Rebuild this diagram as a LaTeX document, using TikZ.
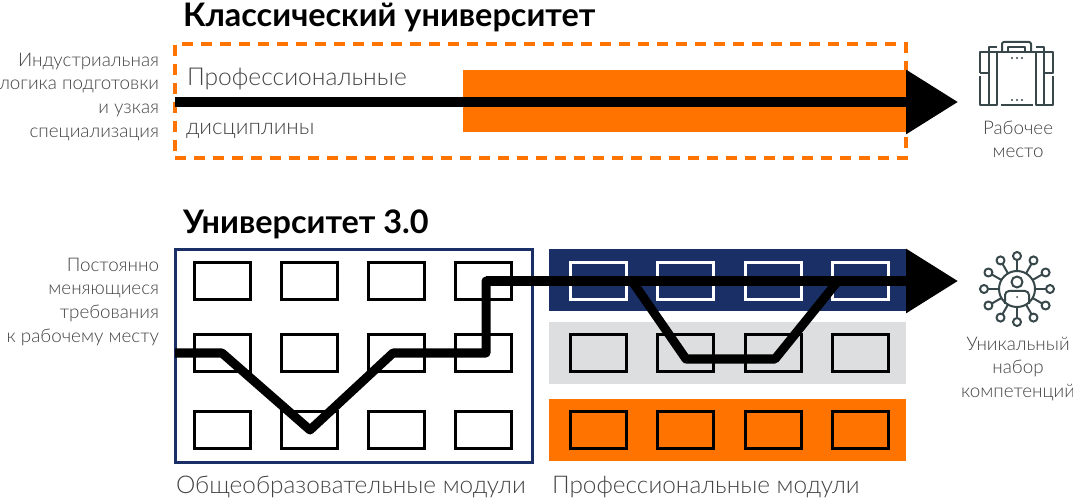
\documentclass[tikz,border=0pt]{standalone}
\usepackage{fontspec}
\setmainfont{Lato}
\newfontfamily\lightfont{Lato Light}
\usepackage{tikz}
\usetikzlibrary{positioning,arrows.meta}
\definecolor{uorange}{HTML}{FF7300}
\definecolor{unavy}{HTML}{1A2F66}
\definecolor{ugray}{HTML}{DCDEDF}
\definecolor{utext}{HTML}{444444}
\definecolor{uicon}{HTML}{37474A}
\tikzset{
  title/.style={anchor=west, inner sep=0pt, outer sep=0pt, font=\fontsize{32.4}{36}\selectfont\bfseries},
  sidelabel/.style={anchor=north east, inner sep=0pt, outer sep=0pt, align=right, text=utext, font=\lightfont\fontsize{18.8}{23.6}\selectfont},
  iconlabel/.style={anchor=north, inner sep=0pt, outer sep=0pt, align=center, text=utext, font=\lightfont\fontsize{18.8}{23.6}\selectfont},
  caption/.style={anchor=west, inner sep=0pt, outer sep=0pt, text=utext, font=\lightfont\fontsize{24.4}{28}\selectfont},
  bar/.style={anchor=north west, inner sep=0pt, outer sep=0pt, minimum width=357pt, minimum height=62pt},
  modulebox/.style={draw=black, line width=3pt, inner sep=0pt, minimum width=56pt, minimum height=37pt},
  track/.style={draw=black, line width=9pt, line join=round},
  mainarrow/.style={draw=black, line width=10pt, -{Triangle[length=52pt,width=62pt]}},
  icon/.style={draw=uicon, line width=2pt, line join=round},
}
\begin{document}
\begin{tikzpicture}[x=1pt,y=-1pt]
  \useasboundingbox (0,0) rectangle (1073,502);

  % top block
  \node[title] (classic) at (183,18) {Классический университет};
  \node[sidelabel] (industry) at (159,53) {Индустриальная\\логика подготовки\\и узкая\\специализация};
  \node[anchor=north west, inner sep=0pt, outer sep=0pt, minimum width=731pt, minimum height=114pt, draw=uorange, line width=3.4pt, dash pattern=on 11pt off 8pt] (frame) at (175,44) {};
  \node[anchor=north west, inner sep=0pt, outer sep=0pt, fill=uorange, minimum width=443pt, minimum height=62pt] (profbar) at (463,70) {};
  \node[caption, font=\lightfont\fontsize{24.6}{28}\selectfont] (proftext) at (187,79) {Профессиональные};
  \node[caption, font=\lightfont\fontsize{22.4}{26}\selectfont] (disctext) at (186,131) {дисциплины};
  \coordinate (classicstart) at (175,102);
  \coordinate (classicend) at (958,102);
  \draw[mainarrow] (classicstart) -- (classicend);

  % case icon
  \draw[icon] (980,73) -- (980,52) -- (1053,52) -- (1053,73) -- (1044,73);
  \draw[icon] (980,76) -- (980,105) -- (997,105) -- (997,52);
  \draw[icon] (980,73) -- (989,73);
  \draw[icon] (989,105) -- (989,47) -- (997,47);
  \draw[icon] (1053,76) -- (1053,105) -- (1036,105) -- (1036,52);
  \draw[icon] (1044,105) -- (1044,47) -- (1036,47);
  \draw[icon] (1002,52) -- (1002,46) [rounded corners=2pt] -- (1002,42) -- (1031,42) -- (1031,52);
  \draw[icon] (1008,52) -- (1008,47) -- (1025,47) -- (1025,52);
  \draw[icon] (1001,105) -- (1033,105);
  \foreach \dotx in {1012,1017,1022} {
    \fill[uicon] (\dotx,58) circle (1.2pt);
    \fill[uicon] (\dotx,100) circle (1.2pt);
  }
  \node[iconlabel] (workplace) at (1018,121) {Рабочее\\место};

  % bottom block
  \node[title] (uni) at (183,224) {Университет 3.0};
  \node[sidelabel] (changing) at (159,258) {Постоянно\\меняющиеся\\требования\\к рабочему месту};
  \node[anchor=north west, inner sep=0pt, outer sep=0pt, minimum width=357pt, minimum height=212pt, draw=unavy, line width=3pt] (general) at (175,250) {};
  \node[bar, fill=unavy] (navybar) at (549,249) {};
  \node[bar, fill=ugray] (graybar) at (549,322) {};
  \node[bar, fill=uorange] (orangebar) at (549,399) {};

  \foreach \col/\xa/\xb in {1/222/598, 2/309/685, 3/396/773, 4/483/860} {
    \node[modulebox] (gen1\col) at (\xa,281) {};
    \node[modulebox] (gen2\col) at (\xa,353) {};
    \node[modulebox] (gen3\col) at (\xa,430) {};
    \node[modulebox, draw=white] (prof1\col) at (\xb,281) {};
    \node[modulebox] (prof2\col) at (\xb,353) {};
    \node[modulebox] (prof3\col) at (\xb,430) {};
  }

  \coordinate (trackstart) at (175,353);
  \coordinate (trackdown) at (222,353);
  \coordinate (tracklow) at (310,430);
  \coordinate (trackup) at (393,353);
  \coordinate (trackturn) at (486,353);
  \coordinate (tracktop) at (486,281);
  \coordinate (trackend) at (958,281);
  \coordinate (branchin) at (632,281);
  \coordinate (branchleft) at (686,359);
  \coordinate (branchright) at (775,359);
  \coordinate (branchout) at (838,281);
  \draw[track] (trackstart) -- (trackdown) -- (tracklow) -- (trackup) -- (trackturn) -- (tracktop) -- (540,281);
  \draw[track] (branchin) -- (branchleft) -- (branchright) -- (branchout);
  \draw[mainarrow] (tracktop) -- (trackend);

  % people icon
  \coordinate (hub) at (1017,289);
  \draw[icon] (hub) circle (18pt);
  \draw[icon] ([shift={(0,-7)}]hub) circle (5.5pt);
  \draw[icon, rounded corners=4pt] ([shift={(-12,15)}]hub) -- ([shift={(-12,2)}]hub) -- ([shift={(12,2)}]hub) -- ([shift={(12,15)}]hub);
  \fill[uicon] ([shift={(0,8)}]hub) circle (1pt);
  \foreach \ang in {0,30,...,330} {
    \draw[icon] ([shift={(\ang:18)}]hub) -- ([shift={(\ang:29)}]hub);
    \draw[icon] ([shift={(\ang:33)}]hub) circle (4pt);
  }
  \node[iconlabel] (unique) at (1018,337) {Уникальный\\набор\\компетенций};

  \node[caption] (gentext) at (176,487) {Общеобразовательные модули};
  \node[caption] (proftext2) at (552,487) {Профессиональные модули};
\end{tikzpicture}
\end{document}
